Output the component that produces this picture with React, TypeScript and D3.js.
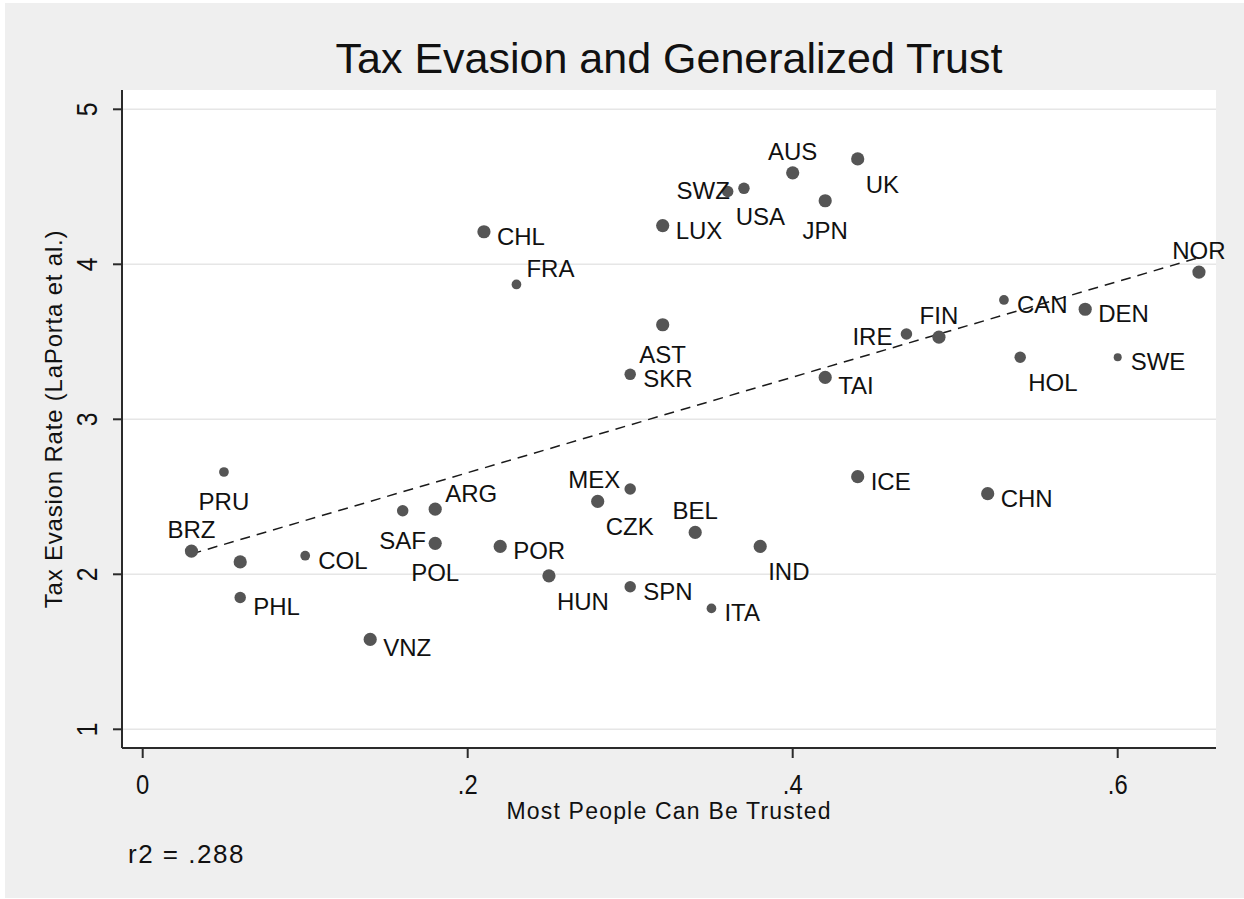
import React from 'react';
import * as d3 from 'd3';

// Country codes, share agreeing "most people can be trusted", tax evasion rating
const countries = ['BRZ', 'PRU', '', 'PHL', 'COL', 'VNZ', 'SAF', 'ARG', 'POL', 'POR', 'HUN', 'CHL', 'FRA', 'MEX', 'CZK', 'SPN', 'BEL', 'ITA', 'IND', 'ICE', 'CHN', 'AST', 'SKR', 'LUX', 'USA', 'SWZ', 'AUS', 'UK', 'JPN', 'NOR', 'CAN', 'DEN', 'FIN', 'IRE', 'TAI', 'HOL', 'SWE'];
const trust = [0.03, 0.05, 0.06, 0.06, 0.10, 0.14, 0.16, 0.18, 0.18, 0.22, 0.25, 0.21, 0.23, 0.30, 0.28, 0.30, 0.34, 0.35, 0.38, 0.44, 0.52, 0.32, 0.30, 0.32, 0.36, 0.37, 0.40, 0.44, 0.42, 0.65, 0.53, 0.58, 0.49, 0.47, 0.42, 0.54, 0.60];
const taxEvasion = [2.15, 2.66, 2.08, 1.85, 2.12, 1.58, 2.41, 2.42, 2.20, 2.18, 1.99, 4.21, 3.87, 2.55, 2.47, 1.92, 2.27, 1.78, 2.18, 2.63, 2.52, 3.61, 3.29, 4.25, 4.47, 4.49, 4.59, 4.68, 4.41, 3.95, 3.77, 3.71, 3.53, 3.55, 3.27, 3.40, 3.40];
// Analytic weights behind the marker sizes
const markerWeights = [4, 2, 4, 3, 2, 4, 3, 4, 4, 4, 4, 4, 2, 3, 4, 3, 4, 2, 4, 4, 4, 4, 3, 4, 3, 3, 4, 4, 4, 4, 2, 4, 4, 3, 4, 3, 1];

const xTicks = [0, 0.2, 0.4, 0.6];
const xTickLabels = ['0', '.2', '.4', '.6'];
const yTicks = [1, 2, 3, 4, 5];
const yTickLabels = ['1', '2', '3', '4', '5'];

const titleText = 'Tax Evasion and Generalized Trust';
const xTitle = 'Most People Can Be Trusted';
const yTitle = 'Tax Evasion Rate (LaPorta et al.)';
const noteText = 'r2 = .288';

// Marker-label clock positions, as in Stata's mlabvposition
const labelClock: Record<string, number> = {
  BRZ: 12, PRU: 6, PHL: 4, COL: 3, VNZ: 4, SAF: 6, ARG: 1, POL: 6, POR: 3, HUN: 5,
  CHL: 3, FRA: 1, MEX: 11, CZK: 5, SPN: 3, BEL: 12, ITA: 3, IND: 5, ICE: 3, CHN: 3,
  AST: 6, SKR: 3, LUX: 3, USA: 5, SWZ: 9, AUS: 12, UK: 5, JPN: 6, NOR: 12, CAN: 3,
  DEN: 3, FIN: 12, IRE: 9, TAI: 4, HOL: 5, SWE: 3,
};

const clockOffset: Record<number, { dx: number; dy: number; anchor: 'start' | 'middle' | 'end' }> = {
  12: { dx: 0, dy: -13, anchor: 'middle' },
  1: { dx: 10, dy: -7, anchor: 'start' },
  3: { dx: 13, dy: 13, anchor: 'start' },
  4: { dx: 13, dy: 17, anchor: 'start' },
  5: { dx: 8, dy: 34, anchor: 'start' },
  6: { dx: 0, dy: 38, anchor: 'middle' },
  9: { dx: -14, dy: 11, anchor: 'end' },
  11: { dx: -10, dy: -1, anchor: 'end' },
};

const W = 1244;
const H = 899;
const plot = { left: 122, right: 1216, top: 90, bottom: 748 };
const FONT = "'Liberation Sans', Arial, Helvetica, sans-serif";

export default function App() {
  const x = d3.scaleLinear().domain([0, 0.6]).range([142.7, 1117.7]);
  const y = d3.scaleLinear().domain([1, 5]).range([729.3, 109.3]);
  const r = d3.scaleLinear().domain([1, 4]).range([4, 6.6]);

  const points = countries.map((c, i) => ({ c, tx: trust[i], ty: taxEvasion[i], w: markerWeights[i] }));

  // Least-squares fit line over the observed range
  const mx = d3.mean(trust)!;
  const my = d3.mean(taxEvasion)!;
  const sxy = d3.sum(trust.map((v, i) => (v - mx) * (taxEvasion[i] - my)));
  const sxx = d3.sum(trust.map((v) => (v - mx) ** 2));
  const slope = sxy / sxx;
  const intercept = my - slope * mx;
  const [xmin, xmax] = d3.extent(trust) as [number, number];
  const fit: [number, number][] = [xmin, xmax].map((v) => [v, intercept + slope * v]);
  const fitPath = d3.line<[number, number]>().x((d) => x(d[0])).y((d) => y(d[1]))(fit)!;

  const cx = (plot.left + plot.right) / 2;
  const cy = (plot.top + plot.bottom) / 2;

  return (
    <svg width={W} height={H} style={{ position: 'absolute', left: 0, top: 0 }} fontFamily={FONT}>
      <rect x={0} y={0} width={W} height={H} fill="#ffffff" />
      <rect x={5} y={3} width={W - 5} height={H - 4} fill="#efefef" />
      <rect x={plot.left} y={plot.top} width={plot.right - plot.left} height={plot.bottom - plot.top} fill="#ffffff" />

      {/* grid */}
      {yTicks.map((t) => (
        <line key={'g' + t} x1={plot.left} x2={plot.right} y1={y(t)} y2={y(t)} stroke="#e6e6e6" strokeWidth={1.5} />
      ))}

      {/* axes */}
      <line x1={plot.left} x2={plot.left} y1={plot.top} y2={plot.bottom} stroke="#2a2a2a" strokeWidth={2} />
      <line x1={plot.left} x2={plot.right} y1={plot.bottom} y2={plot.bottom} stroke="#2a2a2a" strokeWidth={2} />
      {yTicks.map((t, i) => (
        <g key={'y' + t}>
          <line x1={plot.left - 9} x2={plot.left} y1={y(t)} y2={y(t)} stroke="#2a2a2a" strokeWidth={2} />
          <text transform={`translate(97,${y(t)}) rotate(-90) scale(0.85,1)`} textAnchor="middle" fontSize={29} fill="#111">
            {yTickLabels[i]}
          </text>
        </g>
      ))}
      {xTicks.map((t, i) => (
        <g key={'x' + t}>
          <line x1={x(t)} x2={x(t)} y1={plot.bottom} y2={plot.bottom + 10} stroke="#2a2a2a" strokeWidth={2} />
          <text transform={`translate(${x(t)},794) scale(0.85,1)`} textAnchor="middle" fontSize={28} fill="#111">
            {xTickLabels[i]}
          </text>
        </g>
      ))}

      {/* fit line */}
      <path d={fitPath} fill="none" stroke="#1a1a1a" strokeWidth={1.5} strokeDasharray="10,7" />

      {/* markers */}
      {points.map((p, i) => (
        <circle key={'m' + i} cx={x(p.tx)} cy={y(p.ty)} r={r(p.w)} fill="#555555" />
      ))}

      {/* marker labels */}
      {points.filter((p) => p.c).map((p) => {
        const o = clockOffset[labelClock[p.c] ?? 3];
        return (
          <text key={'l' + p.c} x={x(p.tx) + o.dx} y={y(p.ty) + o.dy} textAnchor={o.anchor} fontSize={24} fill="#111">
            {p.c}
          </text>
        );
      })}

      {/* titles */}
      <text x={cx} y={73} textAnchor="middle" fontSize={43} fill="#111">{titleText}</text>
      <text x={cx} y={819} textAnchor="middle" fontSize={23} letterSpacing={1.2} fill="#111">{xTitle}</text>
      <text transform={`translate(62,${cy}) rotate(-90)`} textAnchor="middle" fontSize={24} letterSpacing={0.8} fill="#111">{yTitle}</text>
      <text x={128} y={863} fontSize={26} letterSpacing={1.5} fill="#111">{noteText}</text>
    </svg>
  );
}
